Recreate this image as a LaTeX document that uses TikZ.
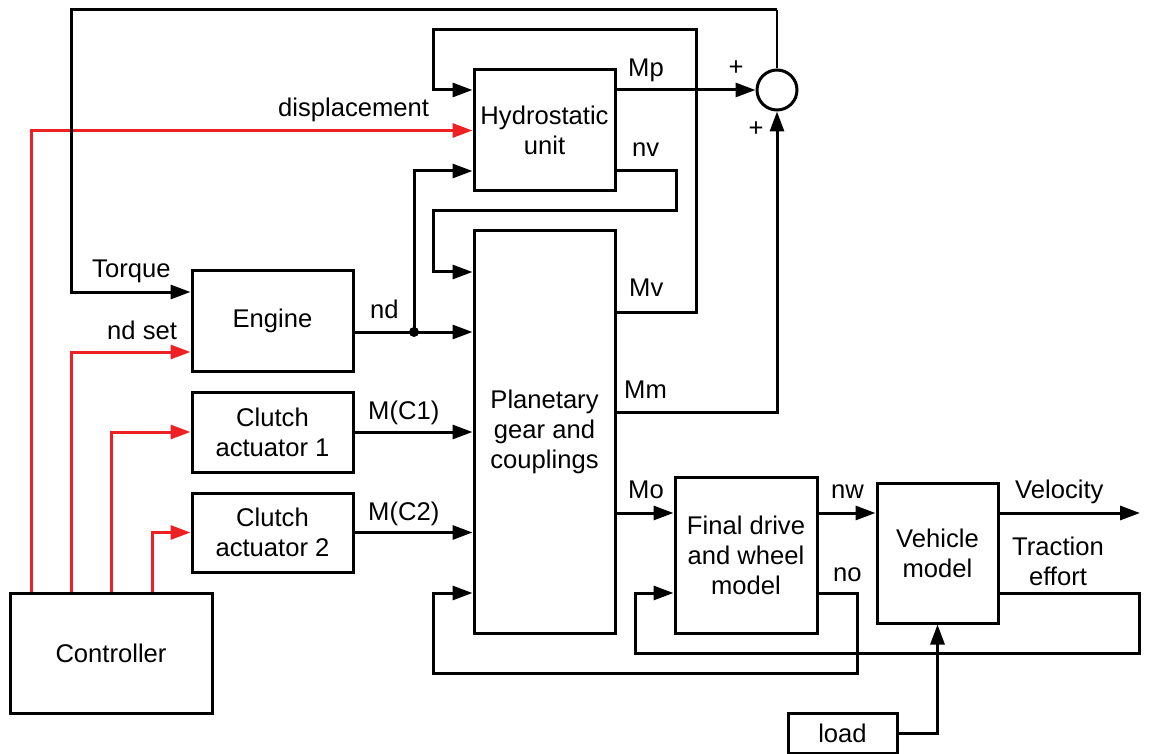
\documentclass[tikz,border=0pt]{standalone}
\usepackage{fontspec}
\setmainfont{Liberation Sans}
\usetikzlibrary{arrows.meta}
\definecolor{sigred}{RGB}{237,32,36}
\begin{document}
\begin{tikzpicture}[x=1pt,y=-1pt,
  every node/.style={font=\fontsize{25.6}{30}\selectfont},
  blk/.style={draw, line width=3pt, inner sep=0pt, align=center},
  wire/.style={line width=3pt},
  arr/.style={wire, -{Triangle[length=20pt,width=14pt]}},
  rarr/.style={arr, color=sigred},
  lbl/.style={inner sep=0pt, anchor=base west}]
\useasboundingbox (0,0) rectangle (1149,754);

% blocks
\node[blk, minimum width=141pt, minimum height=121pt] (hydro) at (544.5,130.5) {Hydrostatic\\unit};
\node[blk, minimum width=141pt, minimum height=402pt] (plan) at (544.5,432) {Planetary\\gear and\\couplings};
\node[blk, minimum width=161pt, minimum height=100pt] (engine) at (272.5,321) {Engine};
\node[blk, minimum width=161pt, minimum height=80pt] (cl1) at (272.5,432) {Clutch\\actuator 1};
\node[blk, minimum width=161pt, minimum height=79pt] (cl2) at (272.5,532.5) {Clutch\\actuator 2};
\node[blk, minimum width=202pt, minimum height=120pt] (ctrl) at (111,653) {Controller};
\node[blk, minimum width=142pt, minimum height=156pt] (fd) at (746,555) {Final drive\\and wheel\\model};
\node[blk, minimum width=121pt, minimum height=140pt] (veh) at (937.5,553) {Vehicle\\model};
\node[blk, minimum width=109pt, minimum height=40pt] (load) at (842.5,733) {load};
\node[draw, circle, line width=3pt, minimum size=40pt, inner sep=0pt] (sum) at (777,90) {};

% coordinates
\coordinate (tr) at (777,10);
\coordinate (j) at (414,332);
\coordinate (vout) at (1140,513);

% red controller signals
\draw[rarr] ([xshift=-80pt]ctrl.north) |- (hydro.west);
\draw[rarr] ([xshift=-40pt]ctrl.north) |- ([yshift=-31pt]engine.west);
\draw[rarr] (ctrl.north) |- (cl1.west);
\draw[rarr] ([xshift=41pt]ctrl.north) |- (cl2.west);

% torque feedback
\draw[line width=1.2pt] (sum.north) -- (tr);
\draw[arr] (tr) -- (71,10) |- ([yshift=29pt]engine.west);

% nd
\draw[arr] ([yshift=-11pt]engine.east) -- ([yshift=100pt]plan.west);
\draw[arr] (j) |- ([yshift=-40.5pt]hydro.west);
\fill (j) circle (5pt);

% hydrostatic unit
\draw[arr] ([yshift=40.5pt]hydro.east) -- (sum.west);
\draw[arr] ([yshift=-40.5pt]hydro.east) -- (676,171) -- (676,211) -- (433,211) |- ([yshift=160pt]plan.west);
\draw[arr] ([yshift=120pt]plan.east) -- (696,312) -- (696,30) -- (433,30) |- ([yshift=40.5pt]hydro.west);
\draw[arr] ([yshift=20pt]plan.east) -| (sum.south);

% clutches
\draw[arr] (cl1.east) -- (plan.west);
\draw[arr] (cl2.east) -- ([yshift=-100.5pt]plan.west);

% output side
\draw[arr] ([yshift=-81pt]plan.east) -- ([yshift=42pt]fd.west);
\draw[arr] ([yshift=42pt]fd.east) -- ([yshift=40pt]veh.west);
\draw[arr] ([yshift=40pt]veh.east) -- (vout);
\draw[arr] ([yshift=-38pt]fd.east) -- (857,593) -- (857,673) -- (433,673) |- ([yshift=-161pt]plan.west);
\draw[arr] ([yshift=-40pt]veh.east) -- (1139,593) -- (1139,653) -- (635,653) |- ([yshift=-38pt]fd.west);
\draw[arr] (load.east) -| (veh.south);

% labels
\node[lbl] at (92,278) {Torque};
\node[lbl] at (107,339) {nd set};
\node[lbl] at (278,117) {displacement};
\node[lbl] at (370,318) {nd};
\node[lbl] at (628,77) {Mp};
\node[lbl] at (632,157) {nv};
\node[lbl] at (629,297) {Mv};
\node[lbl] at (624,398) {Mm};
\node[lbl] at (628,498) {Mo};
\node[lbl] at (368,419) {M(C1)};
\node[lbl] at (368,520) {M(C2)};
\node[lbl] at (831,498) {nw};
\node[lbl] at (833,581) {no};
\node[lbl] at (1015,498) {Velocity};
\node[inner sep=0pt, align=center] at (1058,561) {Traction\\effort};
\node[inner sep=0pt] at (736,68) {+};
\node[inner sep=0pt] at (756,129) {+};
\end{tikzpicture}
\end{document}
